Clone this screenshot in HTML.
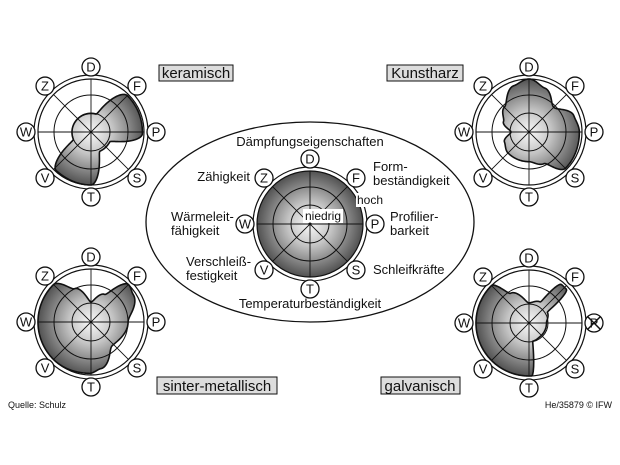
<!DOCTYPE html>
<html><head><meta charset="utf-8"><style>
body{margin:0;background:#fff}
svg{display:block}
text{font-family:"Liberation Sans",sans-serif;fill:#111}
</style></head><body>
<svg id="s" width="620" height="465" viewBox="0 0 620 465" xmlns="http://www.w3.org/2000/svg">
<defs id="defs"></defs>
<ellipse cx="310" cy="222" rx="164" ry="100" fill="none" stroke="#111" stroke-width="1.3"/>
<g id="charts"></g>
<rect x="159" y="65" width="74" height="16" fill="#ddd" stroke="#111"/>
<text x="196" y="78" font-size="15" text-anchor="middle">keramisch</text>
<rect x="387" y="65" width="76" height="16" fill="#ddd" stroke="#111"/>
<text x="425" y="78" font-size="15" text-anchor="middle">Kunstharz</text>
<rect x="157" y="377" width="120" height="17" fill="#ddd" stroke="#111"/>
<text x="217" y="391" font-size="15" text-anchor="middle">sinter-metallisch</text>
<rect x="381" y="377" width="79" height="17" fill="#ddd" stroke="#111"/>
<text x="420" y="391" font-size="15" text-anchor="middle">galvanisch</text>
<text x="8" y="408" font-size="9">Quelle: Schulz</text>
<text x="612" y="408" font-size="9" text-anchor="end">He/35879 © IFW</text>
<g font-size="13">
<text x="310" y="146" text-anchor="middle">Dämpfungseigenschaften</text>
<text x="250" y="181" text-anchor="end">Zähigkeit</text>
<text x="373" y="171">Form-</text>
<text x="373" y="185">beständigkeit</text>
<text x="390" y="221">Profilier-</text>
<text x="390" y="235">barkeit</text>
<text x="171" y="221">Wärmeleit-</text>
<text x="171" y="235">fähigkeit</text>
<text x="186" y="266">Verschleiß-</text>
<text x="186" y="280">festigkeit</text>
<text x="373" y="274">Schleifkräfte</text>
<text x="310" y="308" text-anchor="middle">Temperaturbeständigkeit</text>
</g>
</svg>
<script>
var NS="http://www.w3.org/2000/svg",G=document.getElementById("charts"),D=document.getElementById("defs"),gid=0;
function el(t,a,p){var e=document.createElementNS(NS,t);for(var k in a)e.setAttribute(k,a[k]);(p||G).appendChild(e);return e;}
function grad(cx,cy){var id="g"+(gid++);var g=el("radialGradient",{id:id,cx:cx,cy:cy,r:55,gradientUnits:"userSpaceOnUse"},D);
 el("stop",{offset:0,"stop-color":"#fafafa"},g);el("stop",{offset:0.4,"stop-color":"#c4c4c4"},g);el("stop",{offset:1,"stop-color":"#4a4a4a"},g);return "url(#"+id+")";}
var L=["D","F","P","S","T","V","W","Z"];
function rad(kp,deg){
 var n=kp.length;
 for(var i=0;i<n;i++){var a=kp[i],b=kp[(i+1)%n],a0=a[0],b0=b[0];if(b0<=a0)b0+=360;
  var d=deg;if(d<a0)d+=360;
  if(d>=a0&&d<=b0){var t=(d-a0)/(b0-a0);t=t*t*(3-2*t);return a[1]+(b[1]-a[1])*t;}}
 return kp[0][1];
}
function shape(cx,cy,kp,R){
 var d="";
 for(var i=0;i<360;i+=1){var r=rad(kp,i)*R,a=(i-90)*Math.PI/180;
  d+=(i?"L":"M")+(cx+r*Math.cos(a)).toFixed(2)+","+(cy+r*Math.sin(a)).toFixed(2);}
 return d+"Z";
}
function chart(cx,cy,kp,full,cross){
 var f=grad(cx,cy);
 el("circle",{cx:cx,cy:cy,r:57,fill:"none",stroke:"#111","stroke-width":1.2});
 el("circle",{cx:cx,cy:cy,r:53,fill:full?f:"#fff",stroke:"#111","stroke-width":1.2});
 if(kp) el("path",{d:shape(cx,cy,kp,53),fill:f,stroke:"#111","stroke-width":1.6,"stroke-linejoin":"round"});
 [19,37].forEach(function(r){el("circle",{cx:cx,cy:cy,r:r,fill:"none",stroke:"#111","stroke-width":1});});
 for(var i=0;i<4;i++){var a=(-90+i*45)*Math.PI/180;
  el("line",{x1:cx+53*Math.cos(a),y1:cy+53*Math.sin(a),x2:cx-53*Math.cos(a),y2:cy-53*Math.sin(a),stroke:"#111","stroke-width":0.9});}
 for(var i=0;i<8;i++){var a=(-90+i*45)*Math.PI/180,x=cx+65*Math.cos(a),y=cy+65*Math.sin(a);
  el("circle",{cx:x,cy:y,r:9,fill:"#fff",stroke:"#111","stroke-width":1.3});
  var t=el("text",{x:x,y:y+4.5,"font-size":13,"text-anchor":"middle"});t.textContent=L[i];
  if(cross&&i==2){el("line",{x1:x-6,y1:y-6,x2:x+6,y2:y+6,stroke:"#111","stroke-width":1.5});el("line",{x1:x-6,y1:y+6,x2:x+6,y2:y-6,stroke:"#111","stroke-width":1.5});}
 }
}
chart(91,132,[[0,.35],[15,.35],[45,.97],[92,.97],[118,.4],[155,.4],[180,1],[222,.98],[248,.36]]);
chart(529,132,[[0,1],[20,.88],[45,.66],[70,.9],[90,.95],[135,.97],[155,.66],[180,.56],[225,.56],[248,.5],[270,.34],[292,.52],[315,.66],[342,.92]]);
chart(91,322,[[0,.38],[26,.58],[45,1],[57,.95],[90,.7],[138,.6],[168,.9],[182,.97],[225,1],[315,1],[334,.7]]);
chart(529,323,[[0,.38],[28,.45],[40,.95],[48,.95],[60,.4],[90,.33],[140,.33],[168,.35],[177,1],[225,1],[315,1],[328,.66]],false,true);
chart(310,224,null,true);
el("rect",{x:303,y:209,width:40,height:14,fill:"#fff"});
var t=el("text",{x:323,y:220,"font-size":12,"text-anchor":"middle"});t.textContent="niedrig";
el("rect",{x:356,y:193,width:28,height:14,fill:"#fff"});
t=el("text",{x:370,y:204,"font-size":12,"text-anchor":"middle"});t.textContent="hoch";
el("circle",{cx:310,cy:224,r:1.5,fill:"#111"});
</script>
</body></html>
